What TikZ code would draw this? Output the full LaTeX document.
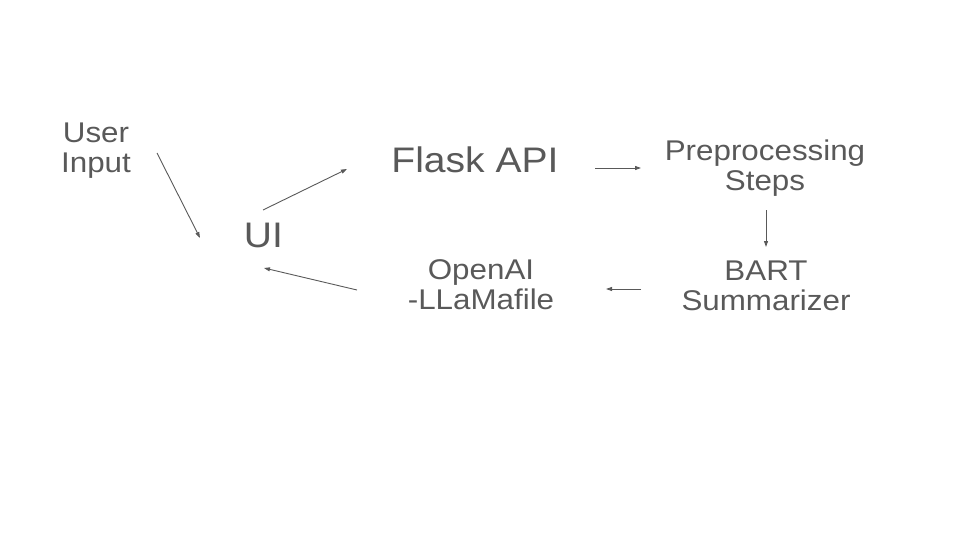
\documentclass[tikz,border=0pt]{standalone}
\usepackage{fontspec}
\setmainfont{Liberation Sans}[FakeStretch=1.1]
\usetikzlibrary{arrows.meta}
\definecolor{txtgray}{HTML}{595959}
\tikzset{
  lbl/.style={text=txtgray, align=center, inner sep=0pt, anchor=base,
    font=\fontsize{28.5}{30}\selectfont},
  biglbl/.style={lbl, font=\fontsize{35.5}{38}\selectfont},
  conn/.style={draw=txtgray, line width=0.9pt, -{Triangle[length=6pt,width=4pt]}}
}
\begin{document}
\begin{tikzpicture}[x=1pt,y=-1pt]
\useasboundingbox (0,0) rectangle (960,540);
% multi-line nodes: base anchor sits on the last line's baseline
\node[lbl] (user) at (96,172.5) {User\\Input};
\node[biglbl] (ui) at (263.5,247.3) {UI};
\node[biglbl] (flask) at (475,172.3) {Flask API};
\node[lbl] (prep) at (765,190) {Preprocessing\\Steps};
\node[lbl] (bart) at (766,310) {BART\\Summarizer};
\node[lbl] (openai) at (481,309.5) {OpenAI\\-LLaMafile};
\coordinate (a1s) at (157,153);  \coordinate (a1e) at (200,238);
\coordinate (a2s) at (263,210);  \coordinate (a2e) at (347,169);
\coordinate (a3s) at (595,168);  \coordinate (a3e) at (641,168);
\coordinate (a4s) at (766,210);  \coordinate (a4e) at (766,247);
\coordinate (a5s) at (641,289);  \coordinate (a5e) at (606,289);
\coordinate (a6s) at (357,290);  \coordinate (a6e) at (264,268);
\draw[conn] (a1s) -- (a1e);
\draw[conn] (a2s) -- (a2e);
\draw[conn] (a3s) -- (a3e);
\draw[conn] (a4s) -- (a4e);
\draw[conn] (a5s) -- (a5e);
\draw[conn] (a6s) -- (a6e);
\end{tikzpicture}
\end{document}
